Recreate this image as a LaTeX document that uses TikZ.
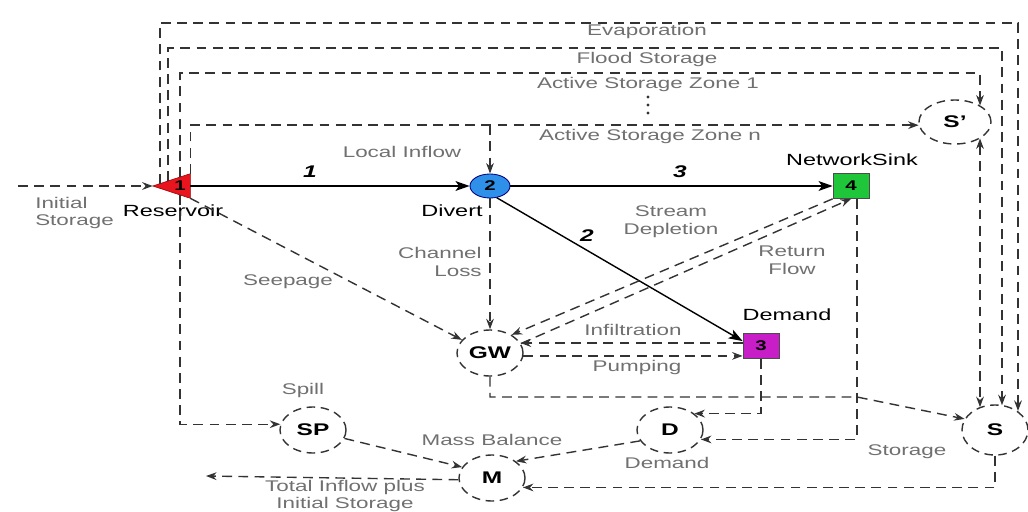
\documentclass[tikz,border=0pt]{standalone}
\usepackage{fontspec}
\setmainfont{Liberation Sans}[FakeStretch=1.45]
\usetikzlibrary{arrows.meta,calc,shapes.geometric}
\definecolor{lblgray}{HTML}{707070}
\definecolor{linegray}{HTML}{333333}
\definecolor{divblue}{HTML}{2E90E8}
\definecolor{sinkgreen}{HTML}{1FC63A}
\definecolor{demmag}{HTML}{C81EC8}
\definecolor{resred}{HTML}{E8141E}
\begin{document}
\begin{tikzpicture}[x=0.025cm,y=-0.025cm,
  lbl/.style={text=lblgray,font=\fontsize{11}{12.8}\selectfont,inner sep=0,align=center},
  nlbl/.style={text=black,font=\fontsize{11.5}{13}\selectfont,inner sep=0},
  elbl/.style={font=\fontsize{12}{14}\selectfont\bfseries\itshape,inner sep=0},
  dline/.style={draw=linegray,line width=1pt,dash pattern=on 7pt off 4.5pt},
  dflow/.style={dline,-{Stealth[length=7.5pt,width=5.5pt,inset=2.5pt]}},
  dboth/.style={dline,{Stealth[length=7.5pt,width=5.5pt,inset=2.5pt]}-{Stealth[length=7.5pt,width=5.5pt,inset=2.5pt]}},
  sflow/.style={draw=black,line width=1pt,-{Stealth[length=10pt,width=7pt,inset=2.5pt]}},
  pool/.style={ellipse,draw=linegray,line width=1pt,dash pattern=on 6pt off 4pt,minimum width=1.65cm,minimum height=1.15cm,inner sep=0,font=\fontsize{12}{14}\selectfont\bfseries},
  numfont/.style={font=\fontsize{10}{12}\selectfont\bfseries,inner sep=0}
]
\useasboundingbox (0,0) rectangle (1028,512);

% main nodes
\node[minimum width=0.925cm,minimum height=0.6cm,inner sep=0] (res) at (171.5,186) {};
\fill[resred,draw=red!60!black,line width=0.4pt] (res.west) -- (res.north east) -- (res.south east) -- cycle;
\node[numfont] (resn) at (180,186) {1};
\node[ellipse,fill=divblue,draw=blue!50!black,line width=0.6pt,minimum width=1cm,minimum height=0.6cm,inner sep=0,numfont] (div) at (490,186) {2};
\node[rectangle,fill=sinkgreen,draw=black!70,line width=0.5pt,minimum width=0.9cm,minimum height=0.625cm,inner sep=0,numfont] (ns) at (851,186) {4};
\node[rectangle,fill=demmag,draw=black!70,line width=0.5pt,minimum width=0.9cm,minimum height=0.625cm,inner sep=0,numfont] (dem) at (761,346) {3};

\node[pool] (gw) at (490,353) {GW};
\node[pool] (sp) at (313,430) {SP};
\node[pool] (m) at (492,478) {M};
\node[pool] (d) at (670,430) {D};
\node[pool,minimum width=1.8cm,minimum height=1.1cm] (sp2) at (955,122) {S'};
\node[pool,minimum height=1.25cm] (s) at (995,430) {S};

% node labels
\node[nlbl] (resl) at (173,211) {Reservoir};
\node[nlbl] (divl) at (452,211) {Divert};
\node[nlbl] (nsl) at (852,160) {NetworkSink};
\node[nlbl] (deml) at (787,315) {Demand};

% edge labels
\node[elbl] (e1) at (310,172) {1};
\node[elbl] (e3) at (680,172) {3};
\node[elbl] (e2) at (587,236) {2};

% gray labels
\node[lbl,align=left,anchor=west] (isl) at (35,213) {Initial\\Storage};
\node[lbl] (li) at (402,152) {Local Inflow};
\node[lbl,align=right,anchor=east] (cl) at (482,262) {Channel\\Loss};
\node[lbl] (sd) at (671,222) {Stream\\Depletion};
\node[lbl] (rf) at (792,260) {Return\\Flow};
\node[lbl] (see) at (288,282) {Seepage};
\node[lbl] (inf) at (633,330) {Infiltration};
\node[lbl] (pump) at (637,367) {Pumping};
\node[lbl] (spill) at (303,390) {Spill};
\node[lbl] (mb) at (492,440) {Mass Balance};
\node[lbl] (dd) at (667,463) {Demand};
\node[lbl] (st) at (907,452) {Storage};
\node[lbl,font=\fontsize{11}{12}\selectfont] (tot) at (345,496) {Total Inflow plus\\Initial Storage};
\node[lbl] (evl) at (647,32) {Evaporation};
\node[lbl] (fsl) at (647,60) {Flood Storage};
\node[lbl] (z1l) at (648,85) {Active Storage Zone 1};
\foreach \yy in {97,105,113} \fill[linegray] (648,\yy) circle[radius=1.6];
\node[lbl] (znl) at (650,137) {Active Storage Zone n};

% coordinates
\coordinate (isc) at (18,186);
\coordinate (ev0) at ($(res.west)!0.19!(res.north east)$);
\coordinate (fl0) at ($(res.west)!0.405!(res.north east)$);
\coordinate (z10) at ($(res.west)!0.73!(res.north east)$);
\coordinate (spc) at ($(res.west)!0.73!(res.south east)$);
\coordinate (evc) at (1018,23);
\coordinate (flc) at (1002,48);
\coordinate (z1c) at (980,73);
\coordinate (jn) at (857,397);
\coordinate (toth) at (206,476);

% solid flows
\draw[sflow] (res.east) -- (div.west);
\draw[sflow] (div.east) -- (ns.west);
\draw[sflow] (div.-60) -- (dem.165);

% storage zones
\draw[dflow] (isc) -- (res.west);
\draw[dflow] (ev0) |- (evc) -- (evc |- s.40);
\draw[dflow] (fl0) |- (flc) -- (flc |- s.70);
\draw[dflow] (z10) |- (z1c) -- (z1c |- sp2.33);
\draw[dflow] (res.north east) |- (sp2.185);
\draw[dflow] (div.north |- sp2.185) -- (div.north);
\draw[dboth] (z1c |- sp2.327) -- (z1c |- s.124);

% groundwater etc.
\draw[dflow] (div.south) -- (gw.north);
\draw[dflow] (res.south east) -- (gw.155);
\draw[dflow] (ns.south west) -- (gw.40);
\draw[dflow] (gw.17) -- (ns.south);
\draw[dflow] (dem.west |- gw.18) -- (gw.18);
\draw[dflow] (gw.355) -- (dem.west |- gw.355);
\draw[dflow] (gw.south) |- (jn) -- (s.160);
\draw[dflow] (jn |- ns.south) |- (d.343);
\draw[dflow] (dem.south) |- (d.34);
\draw[dflow] (d.200) -- (m.35);
\draw[dflow] (spc) |- (sp.170);
\draw[dflow] (sp.345) -- (m.160);
\draw[dflow] (m.183) -- (toth);
\draw[dflow] (s.south) |- (m.343);
\end{tikzpicture}
\end{document}
